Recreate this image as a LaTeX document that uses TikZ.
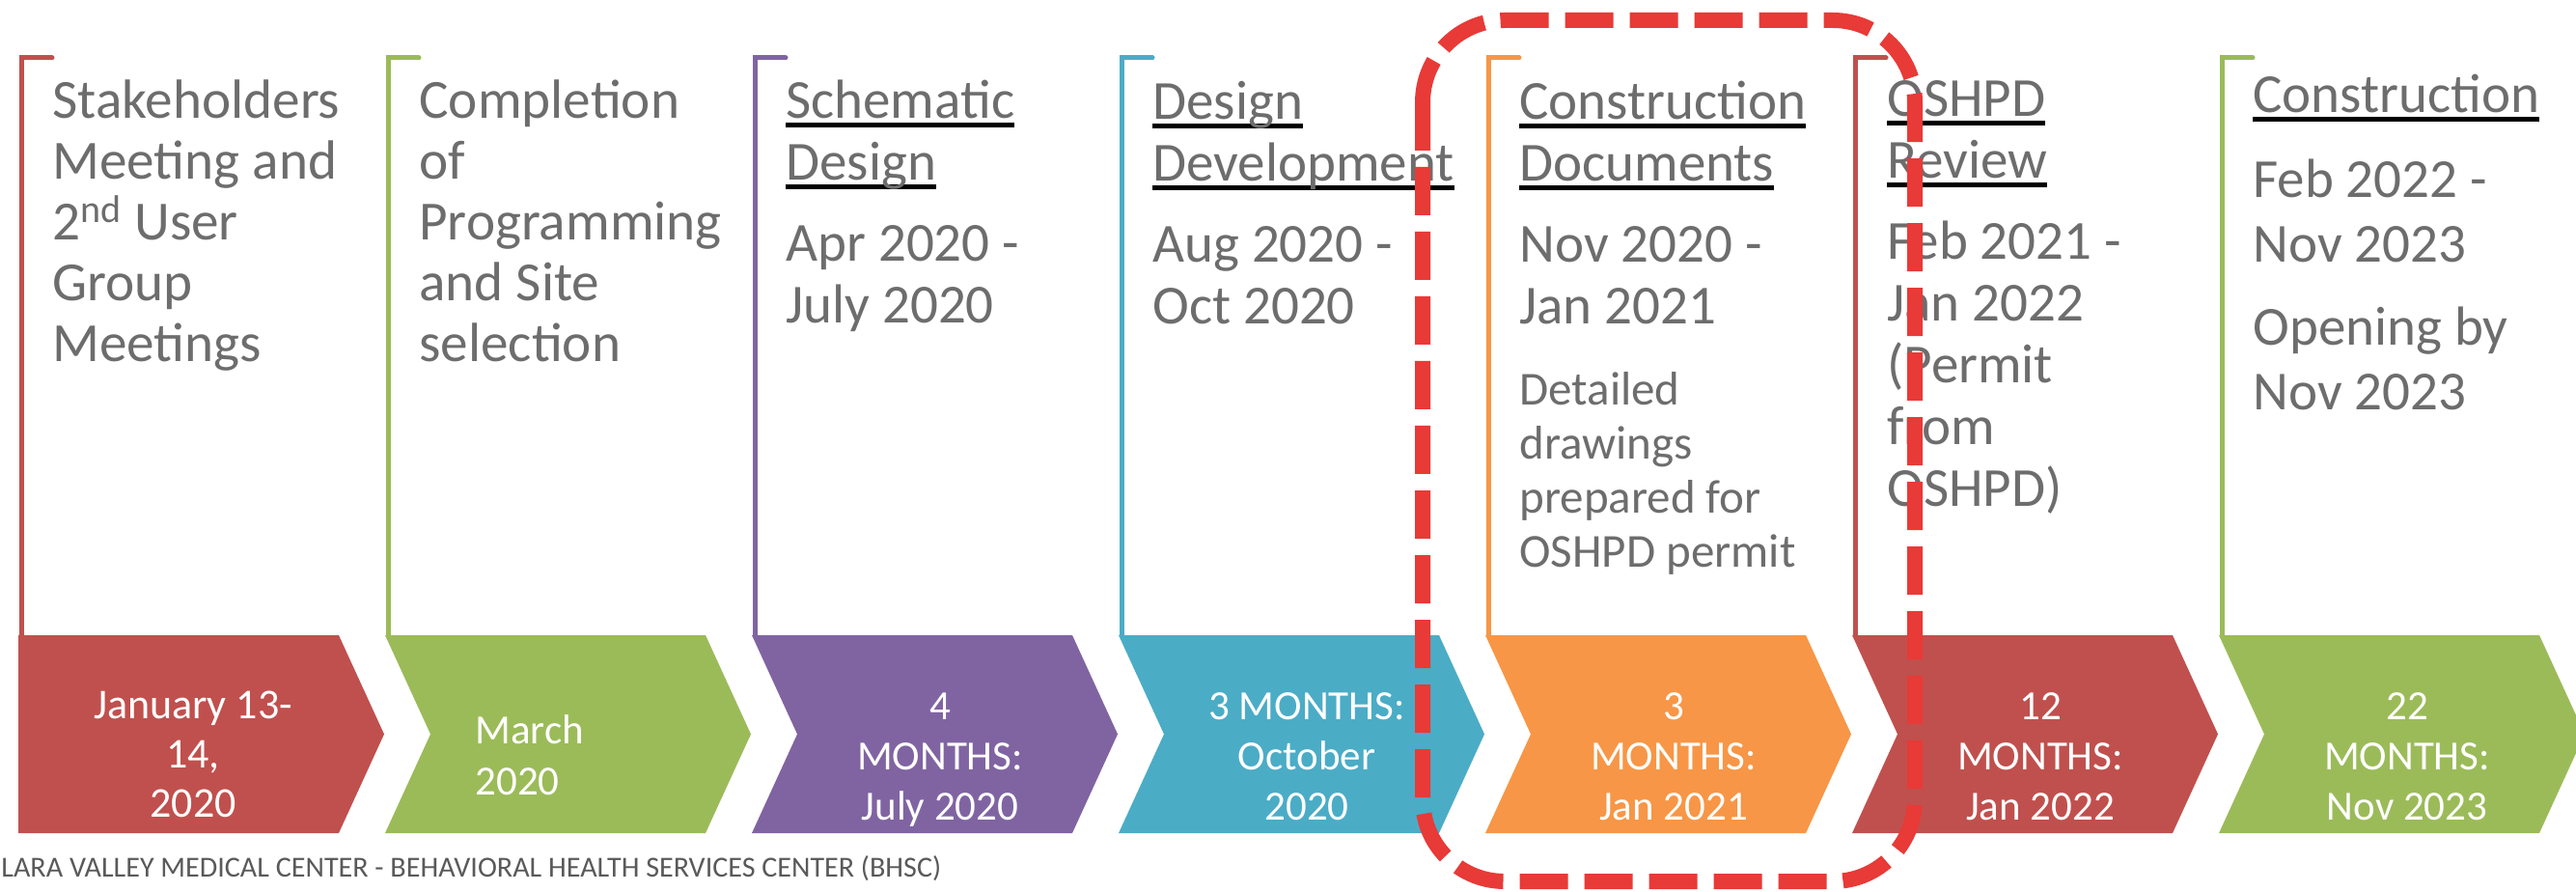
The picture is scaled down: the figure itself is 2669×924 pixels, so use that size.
\documentclass[tikz,border=0pt]{standalone}
\usepackage{fontspec}
\usepackage{graphicx}
\setmainfont{Carlito}
\definecolor{cred}{HTML}{C0504D}
\definecolor{cgreen}{HTML}{9BBB59}
\definecolor{cpurple}{HTML}{8064A2}
\definecolor{cblue}{HTML}{4BACC6}
\definecolor{corange}{HTML}{F79646}
\definecolor{txtgray}{HTML}{6D6D6D}
\definecolor{capgray}{HTML}{5A5A5A}
\definecolor{dashred}{HTML}{E83A37}
\newcommand\ulx[1]{\setbox0=\hbox{#1}\rlap{\color{black}\rule[-0.16em]{\wd0}{0.085em}}\box0}
\newcommand\cln[1]{\hbox to 0pt{\hss#1\hss}}
\newcommand\chev[3]{\fill[#2] (#1,658) -- ++(332,0) -- ++(47,102.5) -- ++(-47,102.5) -- ++(-332,0) -- ++(#3,-102.5) -- cycle;}
\newcommand\brkt[2]{\draw[brk,#2] (#1,658) -- (#1,60) -- ++(32,0);}
\begin{document}
\begin{tikzpicture}[x=0.5pt,y=-0.5pt,
  brk/.style={line width=2.5pt,line cap=round,line join=miter},
  txt/.style={inner sep=0pt,anchor=base west,text=txtgray},
  ctxt/.style={inner sep=0pt,anchor=base,text=white},
  dashbox/.style={draw=dashred,line width=8pt,dash pattern=on 25pt off 8.5pt,rounded corners=42.5pt}]
\clip (0,0) rectangle (2669,924);
\fill[white] (0,0) rectangle (2669,924);
% brackets
\brkt{22}{cred}
\brkt{402}{cgreen}
\brkt{782}{cpurple}
\brkt{1162}{cblue}
\brkt{1542}{corange}
\brkt{1922}{cred}
\brkt{2302}{cgreen}
% chevrons
\chev{19}{cred}{0}
\chev{399}{cgreen}{47}
\chev{779}{cpurple}{47}
\chev{1159}{cblue}{47}
\chev{1539}{corange}{47}
\chev{1919}{cred}{47}
\chev{2299}{cgreen}{47}
% column texts
\node[txt] (t1) at (54,123) {\fontsize{28.6pt}{31.5pt}\selectfont\lineskiplimit=-100pt\vtop{\hbox{Stakeholders}\hbox{Meeting and}\hbox{2\textsuperscript{nd} User}\hbox{Group}\hbox{Meetings}}};
\node[txt] (t2) at (434,123) {\fontsize{28.6pt}{31.5pt}\selectfont\lineskiplimit=-100pt\vtop{\hbox{Completion}\hbox{of}\hbox{Programming}\hbox{and Site}\hbox{selection}}};
\node[txt] (t3) at (814,123) {\fontsize{28.5pt}{32pt}\selectfont\lineskiplimit=-100pt\vtop{\hbox{\ulx{Schematic}}\hbox{\ulx{Design}}\vskip 10pt\hbox{Apr 2020 -}\hbox{July 2020}}};
\node[txt] (t4) at (1194,124) {\fontsize{28.5pt}{32pt}\selectfont\lineskiplimit=-100pt\vtop{\hbox{\ulx{Design}}\hbox{\ulx{Development}}\vskip 10pt\hbox{Aug 2020 -}\hbox{Oct 2020}}};
\node[txt] (t5) at (1574,124) {\fontsize{28.5pt}{32pt}\selectfont\lineskiplimit=-100pt\vtop{\hbox{\ulx{Construction}}\hbox{\ulx{Documents}}\vskip 10pt\hbox{Nov 2020 -}\hbox{Jan 2021}\fontsize{24.5pt}{28pt}\selectfont\vskip 14pt\hbox{Detailed}\hbox{drawings}\hbox{prepared for}\hbox{OSHPD permit}}};
\node[txt] (t6) at (1955,121) {\fontsize{28.5pt}{32pt}\selectfont\lineskiplimit=-100pt\vtop{\hbox{\ulx{OSHPD}}\hbox{\ulx{Review}}\vskip 10pt\hbox{Feb 2021 -}\hbox{Jan 2022}\hbox{(Permit}\hbox{from}\hbox{OSHPD)}}};
\node[txt] (t7) at (2334,117) {\fontsize{28.5pt}{33.5pt}\selectfont\lineskiplimit=-100pt\vtop{\hbox{\ulx{Construction}}\vskip 10.5pt\hbox{Feb 2022 -}\hbox{Nov 2023}\vskip 9.5pt\hbox{Opening by}\hbox{Nov 2023}}};
% chevron texts
\node[ctxt] (d1) at (200,744) {\fontsize{22pt}{25.5pt}\selectfont\lineskiplimit=-100pt\vtop{\cln{January 13-}\cln{14,}\cln{2020}}};
\node[txt,text=white] (d2) at (492,770) {\fontsize{21.5pt}{26.5pt}\selectfont\lineskiplimit=-100pt\vtop{\hbox{March}\hbox{2020}}};
\node[ctxt] (d3) at (974,745) {\fontsize{21.5pt}{26pt}\selectfont\lineskiplimit=-100pt\vtop{\cln{4}\cln{MONTHS:}\cln{July 2020}}};
\node[ctxt] (d4) at (1354,745) {\fontsize{21.5pt}{26pt}\selectfont\lineskiplimit=-100pt\vtop{\cln{3 MONTHS:}\cln{October}\cln{2020}}};
\node[ctxt] (d5) at (1734,745) {\fontsize{21.5pt}{26pt}\selectfont\lineskiplimit=-100pt\vtop{\cln{3}\cln{MONTHS:}\cln{Jan 2021}}};
\node[ctxt] (d6) at (2114,745) {\fontsize{21.5pt}{26pt}\selectfont\lineskiplimit=-100pt\vtop{\cln{12}\cln{MONTHS:}\cln{Jan 2022}}};
\node[ctxt] (d7) at (2494,745) {\fontsize{21.5pt}{26pt}\selectfont\lineskiplimit=-100pt\vtop{\cln{22}\cln{MONTHS:}\cln{Nov 2023}}};
% caption
\node[inner sep=0pt,anchor=base west,text=capgray] (cap) at (1,908) {\resizebox{487pt}{!}{\fontsize{15pt}{18pt}\selectfont LARA VALLEY MEDICAL CENTER - BEHAVIORAL HEALTH SERVICES CENTER (BHSC)}};
% highlight box
\draw[dashbox] (1474,21) rectangle (1984,913);
\end{tikzpicture}
\end{document}
